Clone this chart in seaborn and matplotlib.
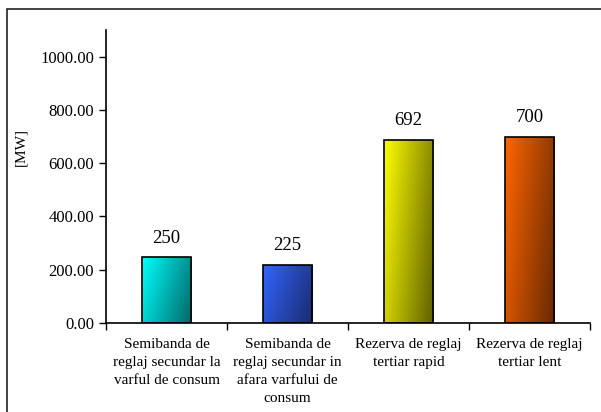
import matplotlib
matplotlib.use("Agg")
import matplotlib.pyplot as plt
import numpy as np
import pandas as pd
import seaborn as sns
from matplotlib.colors import to_rgb
from matplotlib.patches import Rectangle

# Data
categories = [
    "Semibanda de\nreglaj secundar la\nvarful de consum",
    "Semibanda de\nreglaj secundar in\nafara varfului de\nconsum",
    "Rezerva de reglaj\ntertiar rapid",
    "Rezerva de reglaj\ntertiar lent",
]
values = [246, 219, 688, 699]
value_labels = ["250", "225", "692", "700"]
light_colors = ["#00FFFF", "#3366FF", "#FFFF00", "#FF6600"]
dark_colors = ["#006666", "#1A2A6C", "#5E5E00", "#662800"]
y_ticks = [0, 200, 400, 600, 800, 1000]

sns.set_style("ticks", {"text.color": "black", "xtick.color": "black",
                        "ytick.color": "black", "axes.labelcolor": "black"})
plt.rcParams["font.family"] = ["Liberation Serif", "DejaVu Serif"]

df = pd.DataFrame({"cat": categories, "val": values})

fig = plt.figure(figsize=(6.01, 4.12), dpi=100)
ax = fig.add_axes([106 / 601, 1 - 323 / 412, 484 / 601, 293 / 412])

sns.barplot(data=df, x="cat", y="val", hue="cat", palette=light_colors,
            legend=False, width=0.41, edgecolor="black", linewidth=1.2,
            saturation=1, ax=ax)

# diagonal gradient fill for each bar
n = 200
xs = np.linspace(0, 1, n)
xx, yy = np.meshgrid(xs, xs)
t = 0.72 * xx + 0.28 * yy
for patch, c1, c2 in zip(ax.patches, light_colors, dark_colors):
    b = patch.get_bbox()
    a = np.array(to_rgb(c1))
    z = np.array(to_rgb(c2))
    img = a[None, None, :] * (1 - t[..., None]) + z[None, None, :] * t[..., None]
    im = ax.imshow(img, extent=[b.x0, b.x1, b.y0, b.y1], aspect="auto",
                   origin="upper", zorder=patch.get_zorder() - 0.1)
    im.set_clip_path(patch)
    patch.set_facecolor("none")

for patch, lab in zip(ax.patches, value_labels):
    ax.annotate(lab, (patch.get_x() + patch.get_width() / 2, patch.get_height()),
                xytext=(0, 19), textcoords="offset pixels",
                ha="center", va="center", fontsize=13.5, color="black")

ax.set_xlim(-0.5, 3.5)
ax.set_ylim(0, 1100)
ax.set_yticks(y_ticks, [f"{v:.2f}" for v in y_ticks])
ax.set_xticks(range(len(categories)), categories)
ax.set_xticks(np.arange(-0.5, 4, 1), minor=True)
ax.tick_params(axis="x", which="major", length=0, pad=11, labelsize=11)
ax.tick_params(axis="x", which="minor", length=5, width=1, direction="out")
ax.tick_params(axis="y", length=5, width=1, labelsize=12, direction="out")
for lab in ax.get_xticklabels():
    lab.set_linespacing(1.5)

ax.set_xlabel("")
ax.set_ylabel("[MW]", fontsize=11)
ax.yaxis.set_label_coords(-0.163, 0.60)

sns.despine(ax=ax)
for s in ["left", "bottom"]:
    ax.spines[s].set_linewidth(1.2)
    ax.spines[s].set_color("black")

# outer chart frame
fig.patches.append(Rectangle((7 / 601, -0.1), 1.2, 0.1 + 1 - 9 / 412,
                             transform=fig.transFigure, fill=False,
                             edgecolor="#222222", linewidth=1.2))

fig.savefig("out.png", dpi=100)
